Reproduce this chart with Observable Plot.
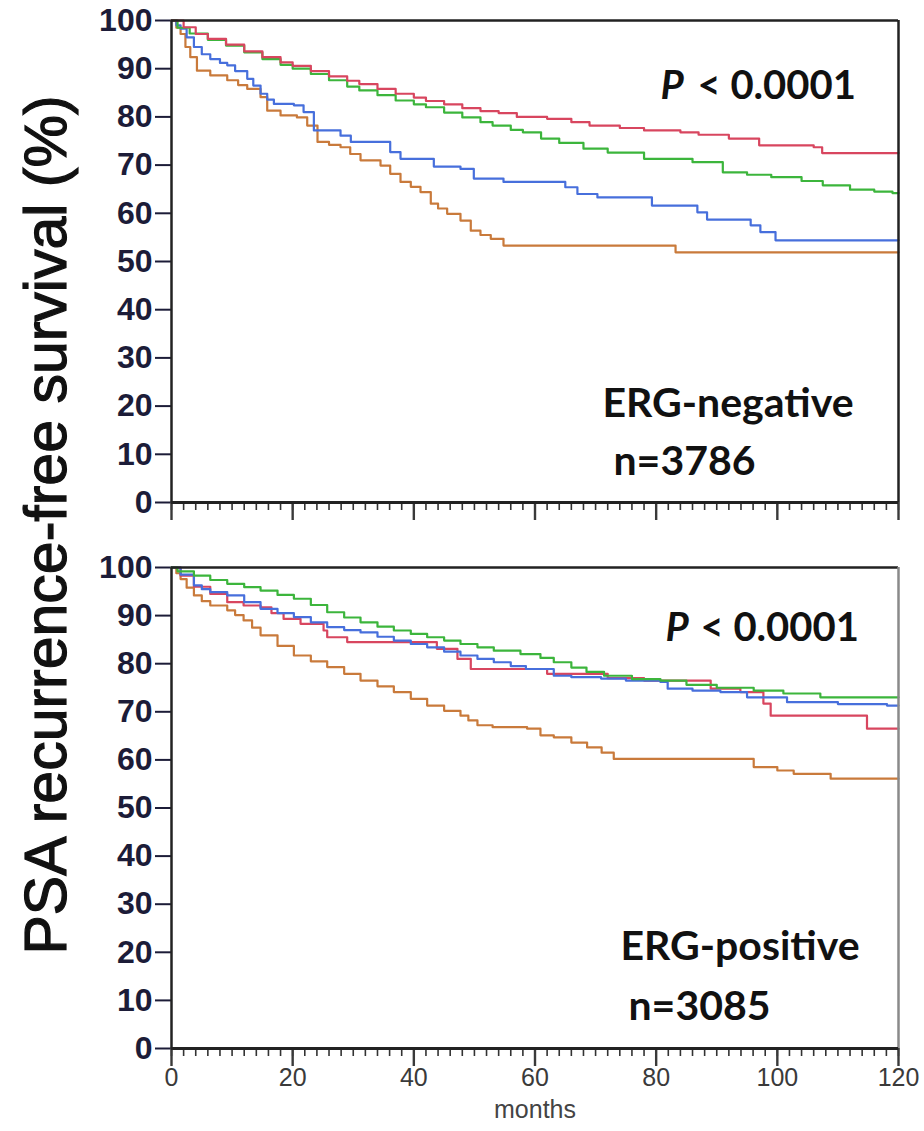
<!DOCTYPE html>
<html>
<head>
<meta charset="utf-8">
<script src="https://cdn.jsdelivr.net/npm/d3@7"></script>
<script src="https://cdn.jsdelivr.net/npm/@observablehq/plot@0.6"></script>
<style>
  html, body { margin: 0; padding: 0; background: #fff; }
  #page { position: relative; width: 924px; height: 1131px; overflow: hidden; background: #fff; }
  #top, #bottom { position: absolute; left: 0; }
  #top { top: 0; }
  #bottom { top: 547px; }
  #overlay { position: absolute; left: 0; top: 0; pointer-events: none; }
</style>
</head>
<body>
<div id="page">
  <div id="top"></div>
  <div id="bottom"></div>
</div>
<script>
// ---------- data: [months, % PSA recurrence-free] ----------
// ERG-negative (n=3786)
const negRed = [[0,100],[2,98.6],[4,97.2],[6,96.2],[9,95.0],[12,93.6],[15,92.4],[18,91.3],[20,90.6],[23,89.5],[26,88.4],[29,87.5],[31,86.8],[34,85.8],[37,84.8],[40,84.0],[42,83.3],[45,82.6],[48,81.8],[51,81.2],[54,80.8],[57,80.0],[62,79.6],[66,78.9],[69,78.2],[74,77.7],[78,77.2],[84,76.8],[87,76.3],[92,75.5],[97,74.1],[106,73.7],[107.4,72.5],[120,72.5]];
const negGreen = [[0,100],[1,98.5],[3,97.3],[6,96.0],[9,94.8],[12,93.4],[15,92.0],[18,90.8],[20,90.0],[23,88.9],[26,87.6],[29,86.3],[31,85.5],[34,84.5],[37,83.4],[40,82.6],[42,82.0],[45,80.9],[48,79.9],[51,78.9],[53,78.2],[56,77.3],[58,76.8],[61,75.5],[64,74.6],[68,73.4],[72,72.6],[78,71.3],[86,70.6],[91,68.5],[95,68.0],[99,67.5],[104,66.7],[107.5,65.8],[112,64.9],[116,64.5],[119,64.2],[120,64.2]];
const negBlue = [[0,100],[0.8,99.0],[1.5,98.3],[2.5,96.5],[3.7,94.5],[5,93.0],[6.4,92.0],[8,91.2],[9.2,90.7],[10.5,89.5],[12.5,87.9],[13.5,86.5],[14.7,84.8],[15.8,83.6],[16.9,82.7],[20.2,82.4],[21.8,81.0],[23.5,77.2],[27.9,76.1],[29.6,74.8],[36.1,72.7],[37.8,71.3],[43.3,69.7],[47.7,69.2],[49.9,67.2],[54.8,66.5],[65,65.4],[67,64.0],[70.3,63.3],[79.3,61.6],[86.8,60.2],[88.4,58.7],[95.6,57.5],[97.2,56.1],[99.7,54.4],[120,54.4]];
const negOrange = [[0,100],[0.8,98.5],[1.5,97.2],[2.3,94.5],[3.1,92.4],[4.2,89.6],[6.4,88.6],[9.2,87.6],[11,86.6],[12.5,85.8],[14.7,84.1],[15.8,81.3],[18,80.3],[20.7,79.9],[22.4,78.2],[24.1,74.8],[26,74.2],[27.9,73.7],[29.5,72.3],[31.2,71.0],[34.5,69.9],[36.1,68.2],[37.8,66.5],[39.5,65.5],[41.1,64.4],[42.8,62.0],[44,61.0],[45.5,59.9],[47.7,58.5],[49.4,56.4],[51,55.5],[52.7,54.7],[54.8,53.3],[83.2,51.9],[120,51.9]];
// ERG-positive (n=3085)
const posRed = [[0,100],[1.5,98.3],[3.7,96.0],[6.4,94.5],[9.2,92.8],[11.9,92.1],[14.7,91.7],[16.5,90.5],[18.5,89.3],[21.3,88.3],[25.1,86.9],[25.7,85.5],[29,84.5],[43.8,83.1],[47.2,81.0],[49.4,78.9],[62,77.9],[72,77.0],[78,76.5],[89,74.8],[93.9,74.1],[97.7,71.7],[98.9,69.2],[114.8,66.5],[120,66.5]];
const posGreen = [[0,100],[1,99.2],[3.7,98.3],[6.4,97.4],[9.2,96.6],[12,95.9],[14.7,95.2],[17.5,94.3],[20.2,93.5],[23,92.2],[25.7,90.7],[28.5,89.6],[31.2,88.6],[34,87.7],[36.7,86.9],[39.5,86.2],[42.2,85.5],[45,84.8],[47.7,84.1],[50.5,83.4],[53.2,82.7],[57.6,82.0],[60.9,81.2],[63.1,80.3],[66,79.2],[68.5,78.3],[71.4,77.5],[76,76.8],[80.7,76.5],[85,75.6],[90,75.0],[96.1,74.4],[101,73.8],[107.1,73.0],[120,73.0]];
const posBlue = [[0,100],[1.5,98.5],[3.7,96.3],[5,95.5],[6.4,94.9],[9.2,94.2],[12,92.8],[14.7,91.4],[17.5,90.5],[20.2,89.7],[23,88.6],[25.7,87.6],[28.5,87.0],[31.2,86.5],[34,85.6],[36.7,84.8],[39.5,84.1],[42.2,83.4],[45,82.5],[47.7,81.7],[50.5,81.0],[53.2,80.3],[56,79.5],[58.5,78.9],[63.1,77.5],[66,77.2],[70.9,76.9],[75,76.5],[80.7,76.2],[81.9,74.8],[86,74.4],[90.6,74.1],[95,73.0],[101.6,72.0],[110,71.6],[118.1,71.3],[120,71.3]];
const posOrange = [[0,100],[0.8,98.8],[1.5,97.6],[2.5,95.8],[3.7,94.2],[5,93.0],[6.4,92.1],[9.2,91.1],[10.5,90.1],[11.9,89.0],[13.3,87.5],[14.7,85.9],[17.5,83.7],[20.2,81.7],[23,80.5],[25.7,79.3],[28.5,77.9],[31.2,76.5],[34,75.3],[36.7,74.1],[39.5,72.7],[42.2,71.3],[45,70.2],[47.7,69.2],[49,68.2],[50.5,67.2],[53,66.8],[58.7,66.5],[60.9,65.1],[63.1,64.7],[66,63.6],[68.6,62.6],[71,61.5],[73,60.2],[96.1,58.5],[100,57.8],[102.7,57.1],[108.8,56.1],[120,56.1]];

const seriesColors = { red: "#d8465f", green: "#3cb53c", blue: "#476fdc", orange: "#c97a3b" };
const yTicks = [0,10,20,30,40,50,60,70,80,90,100];
const xTicks = [0,20,40,60,80,100,120];
const xMinorTicks = d3.range(0, 121, 2);
const panelLabels = { top: ["ERG-negative", "n=3786"], bottom: ["ERG-positive", "n=3085"] };
const pLabel = ["P", "< 0.0001"];
const xLabel = "months";
const yTitle = "PSA recurrence-free survival (%)";

const tickFont = "'Liberation Sans', Arial, sans-serif";
const narrowFont = "'Liberation Sans Narrow', 'Arial Narrow', 'Liberation Sans', Arial, sans-serif";
const annFont = "Lato, 'Open Sans', sans-serif";

function rows(pairs) { return pairs.map(([m, s]) => ({ m, s })); }

function panel({ series, labels, showXLabels, height, marginBottom, pDx, erg, n, rightStroke }) {
  const lineMarks = series.map(([pairs, c]) =>
    Plot.line(rows(pairs), { x: "m", y: "s", curve: "step-after", stroke: seriesColors[c], strokeWidth: 2.2 }));
  return Plot.plot({
    width: 924,
    height,
    marginLeft: 171,
    marginRight: 26,
    marginTop: 20,
    marginBottom,
    style: { background: "transparent", overflow: "visible" },
    x: { domain: [0, 120] },
    y: { domain: [0, 100] },
    marks: [
      Plot.axisY({ ticks: yTicks, tickSize: 16, tickPadding: 3, fontSize: 32, fontWeight: "bold",
        fontFamily: tickFont, color: "#1c1c38", strokeWidth: 2, label: null }),
      Plot.axisX({ ticks: xMinorTicks, tickSize: 8, tickFormat: () => "", color: "#333", strokeWidth: 1.6, label: null }),
      Plot.axisX({ ticks: xTicks, tickSize: 18, tickPadding: 2, fontSize: 25, fontFamily: narrowFont,
        color: "#3a3a3a", strokeWidth: 2.4, label: null,
        tickFormat: showXLabels ? (d => String(d)) : (() => "") }),
      ...lineMarks,
      Plot.ruleY([100], { stroke: "#222", strokeWidth: 2.5 }),
      Plot.ruleX([120], { stroke: rightStroke, strokeWidth: 2.5 }),
      Plot.ruleX([0], { stroke: "#222", strokeWidth: 2.5 }),
      Plot.ruleY([0], { stroke: "#222", strokeWidth: 3 }),
      Plot.text([pLabel[0]], { text: d => d, frameAnchor: "top-left", dx: pDx[0], dy: pDx[2], textAnchor: "start",
        fontSize: 40, fontStyle: "italic", fontWeight: "bold", fontFamily: annFont, fill: "#111" }),
      Plot.text([pLabel[1]], { text: d => d, frameAnchor: "top-left", dx: pDx[1], dy: pDx[2], textAnchor: "start",
        fontSize: 40, fontWeight: "bold", fontFamily: annFont, fill: "#111" }),
      Plot.text([labels[0]], { text: d => d, frameAnchor: "top-left", dx: erg[0], dy: erg[1], textAnchor: "start",
        fontSize: 41, fontWeight: "bold", fontFamily: annFont, fill: "#111" }),
      Plot.text([labels[1]], { text: d => d, frameAnchor: "top-left", dx: n[0], dy: n[1], textAnchor: "start",
        fontSize: 41, fontWeight: "bold", fontFamily: annFont, fill: "#111" }),
      ...(showXLabels ? [Plot.text([xLabel], { text: d => d, frameAnchor: "bottom", dy: 69,
        fontSize: 25, fontFamily: narrowFont, fill: "#444" })] : [])
    ]
  });
}

const topChart = panel({
  series: [[negOrange, "orange"], [negBlue, "blue"], [negGreen, "green"], [negRed, "red"]],
  labels: panelLabels.top, showXLabels: false, height: 532, marginBottom: 30,
  pDx: [489, 526, 50], erg: [431, 367], n: [442, 425], rightStroke: "#222"
});
const bottomChart = panel({
  series: [[posOrange, "orange"], [posRed, "red"], [posBlue, "blue"], [posGreen, "green"]],
  labels: panelLabels.bottom, showXLabels: true, height: 584, marginBottom: 83,
  pDx: [494, 529, 45], erg: [449, 363], n: [457, 423], rightStroke: "#8a8a8a"
});
document.getElementById("top").appendChild(topChart);
document.getElementById("bottom").appendChild(bottomChart);

// y-axis title spanning both panels
const overlay = d3.select("#page").append("svg")
  .attr("id", "overlay").attr("width", 924).attr("height", 1131);
overlay.append("text")
  .attr("transform", "translate(66,525) rotate(-90)")
  .attr("text-anchor", "middle")
  .attr("font-family", tickFont)
  .attr("font-size", 59)
  .attr("stroke", "#111")
  .attr("stroke-width", 1.2)
  .attr("fill", "#111")
  .text(yTitle);
</script>
</body>
</html>
